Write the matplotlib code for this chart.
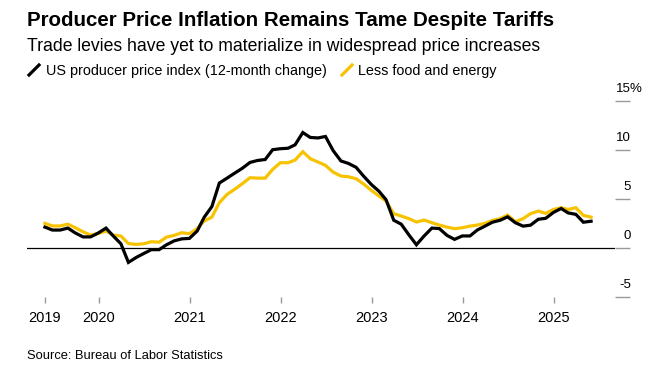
import matplotlib
matplotlib.use("Agg")
import matplotlib.pyplot as plt
import matplotlib.transforms as mtransforms
from matplotlib.lines import Line2D
import pandas as pd

plt.rcParams['font.family'] = ['Liberation Sans', 'DejaVu Sans']

# monthly, May 2019 .. May 2025 (plotted at month end)
months = pd.date_range('2019-05-31', '2025-05-31', freq='ME')

ppi = [2.1, 1.8, 1.8, 2.0, 1.5, 1.1, 1.1, 1.5, 2.0, 1.2,
       0.4, -1.5, -1.0, -0.6, -0.2, -0.2, 0.3, 0.7, 0.9, 0.95,
       1.7, 3.1, 4.2, 6.6, 7.1, 7.6, 8.1, 8.7, 8.9, 9.0,
       10.0, 10.1, 10.15, 10.5, 11.75, 11.25, 11.2, 11.35, 9.9, 8.85,
       8.6, 8.2, 7.3, 6.45, 5.75, 4.9, 2.8, 2.4, 1.3, 0.3,
       1.2, 2.0, 1.95, 1.25, 0.85, 1.2, 1.2, 1.8, 2.2, 2.6,
       2.8, 3.15, 2.55, 2.2, 2.3, 2.9, 3.0, 3.6, 4.0, 3.55,
       3.4, 2.6, 2.7]

core = [2.48, 2.22, 2.22, 2.4, 2.04, 1.62, 1.29, 1.45, 1.7, 1.29,
        1.19, 0.42, 0.34, 0.4, 0.61, 0.56, 1.08, 1.26, 1.53, 1.43,
        1.94, 2.72, 3.12, 4.59, 5.44, 5.95, 6.53, 7.14, 7.1, 7.1,
        7.99, 8.67, 8.67, 8.94, 9.8, 9.08, 8.74, 8.4, 7.71, 7.31,
        7.24, 7.04, 6.5, 5.85, 5.27, 4.76, 3.47, 3.23, 2.96, 2.62,
        2.82, 2.55, 2.31, 2.1, 1.94, 2.04, 2.2, 2.31, 2.48, 2.79,
        2.96, 3.33, 2.65, 2.96, 3.47, 3.74, 3.5, 3.9, 4.08, 3.9,
        4.08, 3.3, 3.12]

year_labels = ['2019', '2020', '2021', '2022', '2023', '2024', '2025']
y_ticks = [-5, 0, 5, 10, 15]

BLACK = '#000000'
YELLOW = '#F7C300'
GREY = '#999999'

W, H = 659, 377
fig = plt.figure(figsize=(W / 100, H / 100), dpi=100)


def fx(px):
    return px / W


def fy(py):
    return 1 - py / H


ax = fig.add_axes([fx(27), fy(296.7), fx(615) - fx(27), fy(100.7) - fy(296.7)])

ax.plot(months, core, color=YELLOW, lw=2.3, zorder=3, solid_joinstyle='miter')
ax.plot(months, ppi, color=BLACK, lw=2.3, zorder=4, solid_joinstyle='miter')
ax.axhline(0, color=BLACK, lw=0.9, zorder=2)

ax.set_xlim(pd.Timestamp('2019-03-20'), pd.Timestamp('2025-09-04'))
ax.set_ylim(-5, 15)
for s in ax.spines.values():
    s.set_visible(False)

xt = [months[0]] + [pd.Timestamp(f'{y}-01-01') for y in range(2020, 2026)]
ax.set_xticks(xt)
ax.set_xticklabels(year_labels)
ax.tick_params(axis='x', length=4, width=1, color=GREY, pad=6, labelsize=10.5)

ax.yaxis.tick_right()
ax.set_yticks(y_ticks)
ax.set_yticklabels([])
ax.tick_params(axis='y', length=11, width=1, color=GREY, pad=0)

blend = mtransforms.blended_transform_factory(ax.transAxes, ax.transData)
lab_tr = mtransforms.offset_copy(blend, fig=fig, x=16 * 0.72, y=9 * 0.72, units='points')
pct_tr = mtransforms.offset_copy(blend, fig=fig, x=15 * 0.72, y=9 * 0.72, units='points')
for v in y_ticks:
    ax.text(1, v, str(v), transform=lab_tr, ha='right', va='baseline', fontsize=9.5)
    if v == 15:
        ax.text(1, v, '%', transform=pct_tr, ha='left', va='baseline', fontsize=9.5)

fig.text(fx(27), fy(26), 'Producer Price Inflation Remains Tame Despite Tariffs',
         fontsize=14.8, fontweight='bold', va='baseline')
fig.text(fx(27), fy(51), 'Trade levies have yet to materialize in widespread price increases',
         fontsize=12.7, va='baseline')

fig.add_artist(Line2D([fx(29), fx(39)], [fy(75), fy(65)], color=BLACK, lw=2.3))
fig.text(fx(46), fy(75), 'US producer price index (12-month change)', fontsize=10.4, va='baseline')
fig.add_artist(Line2D([fx(342), fx(352)], [fy(75), fy(65)], color=YELLOW, lw=2.3))
fig.text(fx(358), fy(75), 'Less food and energy', fontsize=10.4, va='baseline')

fig.text(fx(27), fy(359), 'Source: Bureau of Labor Statistics', fontsize=9.3, va='baseline')

fig.savefig('out.png', dpi=100)
